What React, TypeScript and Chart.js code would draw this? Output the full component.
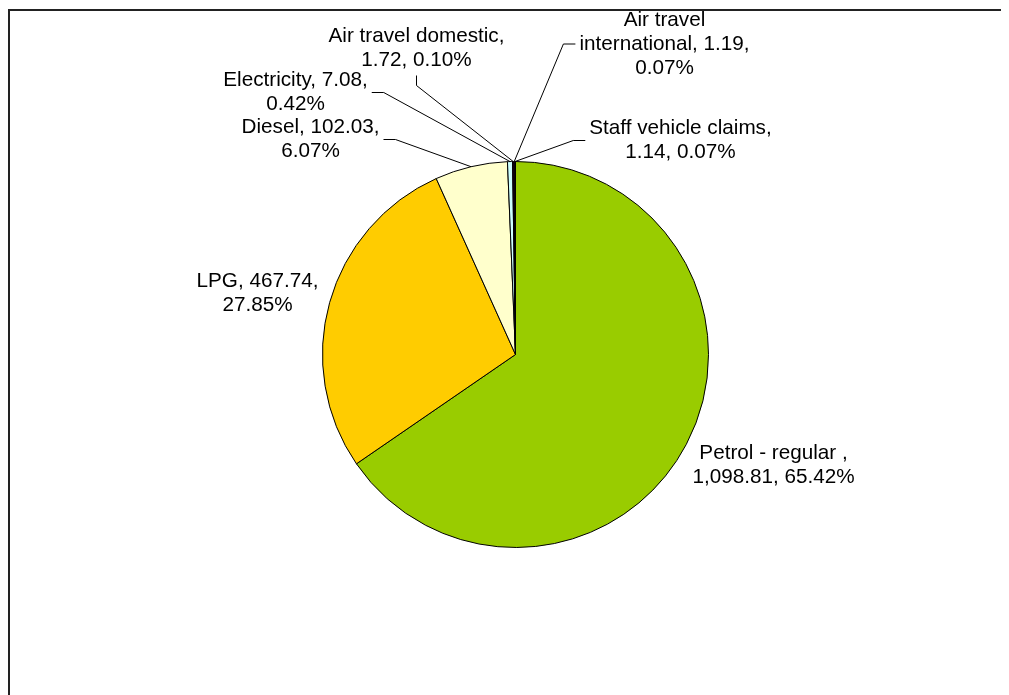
import React, { useEffect, useRef } from "react";
import { Chart, registerables } from "chart.js";

Chart.register(...registerables);

const categories = [
  "Petrol - regular ",
  "LPG",
  "Diesel",
  "Electricity",
  "Air travel domestic",
  "Air travel international",
  "Staff vehicle claims",
];
const values = [1098.81, 467.74, 102.03, 7.08, 1.72, 1.19, 1.14];
const colors = ["#99CC00", "#FFCC00", "#FFFFCC", "#CCFFFF", "#660066", "#800080", "#993366"];

// label layout (offsets of label block centre from the pie centre, wrap width, leader side)
const labelDx = [258, -258, -205, -220, -99, 149, 165];
const labelDy = [111, -61, -215, -262, -306, -310.5, -214];
const labelWrap = [170, 135, 150, 155, 190, 178, 190];
const leaderSide = ["none", "none", "right", "right", "bottom", "left", "left"];

const FONT_SIZE = 20.7;
const LINE_H = 24;
const FONT = `${FONT_SIZE}px "Liberation Sans", Arial, sans-serif`;

function fmt(v: number) {
  return v.toLocaleString("en-US", { minimumFractionDigits: 2, maximumFractionDigits: 2 });
}

function wrap(ctx: CanvasRenderingContext2D, text: string, maxW: number) {
  const words = text.split(" ");
  const lines: string[] = [];
  let cur = "";
  for (const w of words) {
    const test = cur ? cur + " " + w : w;
    if (cur && ctx.measureText(test).width > maxW) {
      lines.push(cur);
      cur = w;
    } else {
      cur = test;
    }
  }
  if (cur) lines.push(cur);
  return lines;
}

const labelPlugin = {
  id: "excelLabels",
  afterDraw(chart: any) {
    const ctx: CanvasRenderingContext2D = chart.ctx;
    const meta = chart.getDatasetMeta(0);
    const total = values.reduce((a, b) => a + b, 0);
    ctx.save();
    // frame
    ctx.strokeStyle = "#222";
    ctx.lineWidth = 2;
    ctx.beginPath();
    ctx.moveTo(0, 2);
    ctx.lineTo(chart.width, 2);
    ctx.moveTo(1, 1);
    ctx.lineTo(1, chart.height);
    ctx.stroke();

    ctx.font = FONT;
    ctx.fillStyle = "#000";
    ctx.textAlign = "center";
    ctx.textBaseline = "middle";
    meta.data.forEach((arc: any, i: number) => {
      const p = arc.getProps(["x", "y", "startAngle", "endAngle", "outerRadius"], true);
      const cx = p.x;
      const cy = p.y;
      const pct = ((values[i] / total) * 100).toFixed(2);
      const text = `${categories[i]}, ${fmt(values[i])}, ${pct}%`;
      const lines = wrap(ctx, text, labelWrap[i]);
      const bx = cx + labelDx[i];
      const by = cy + labelDy[i];
      const w = Math.max(...lines.map((l) => ctx.measureText(l).width));
      const h = lines.length * LINE_H;
      lines.forEach((l, k) => {
        ctx.fillText(l, bx, by - h / 2 + LINE_H * (k + 0.5));
      });
      const side = leaderSide[i];
      if (side !== "none") {
        const a = (p.startAngle + p.endAngle) / 2;
        const px = cx + p.outerRadius * Math.cos(a);
        const py = cy + p.outerRadius * Math.sin(a);
        ctx.strokeStyle = "#000";
        ctx.lineWidth = 1;
        ctx.beginPath();
        if (side === "right" || side === "left") {
          const dir = side === "right" ? 1 : -1;
          const sx = bx + dir * (w / 2 + 4);
          const ex = sx + dir * 12;
          ctx.moveTo(sx, by);
          ctx.lineTo(ex, by);
          ctx.lineTo(px, py);
        } else {
          const sy = by + h / 2 + 3;
          const ey = sy + 10;
          ctx.moveTo(bx, sy);
          ctx.lineTo(bx, ey);
          ctx.lineTo(px, py);
        }
        ctx.stroke();
      }
    });
    ctx.restore();
  },
};

export default function App() {
  const ref = useRef<HTMLCanvasElement>(null);
  useEffect(() => {
    document.documentElement.style.overflow = "hidden";
    document.body.style.overflow = "hidden";
    const chart = new Chart(ref.current!, {
      type: "pie",
      data: {
        labels: categories,
        datasets: [
          {
            data: values,
            backgroundColor: colors,
            borderColor: "#000",
            borderWidth: 1,
          },
        ],
      },
      options: {
        responsive: false,
        animation: false,
        layout: { padding: { left: 314, right: 300, top: 153, bottom: 147 } },
        plugins: { legend: { display: false }, tooltip: { enabled: false } },
      },
      plugins: [labelPlugin],
    });
    return () => chart.destroy();
  }, []);
  return (
    <div style={{ width: 1001, height: 687 }}>
      <canvas ref={ref} width={1001} height={687} style={{ display: "block" }} />
    </div>
  );
}
